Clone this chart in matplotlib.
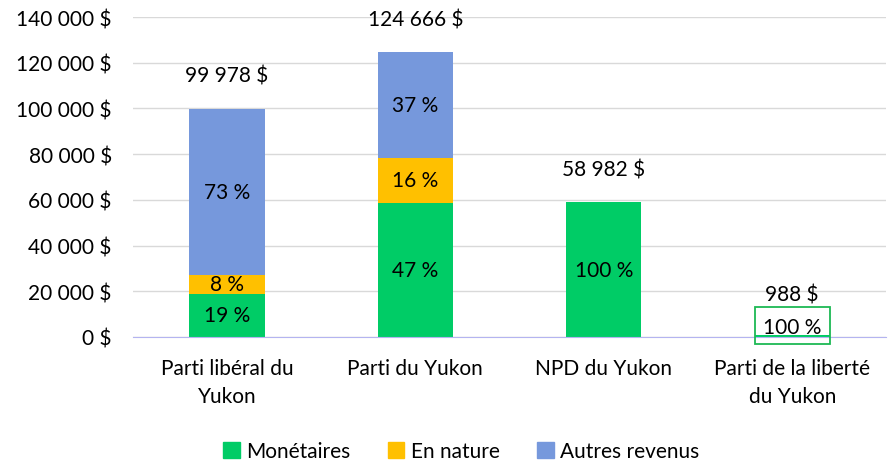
import matplotlib
matplotlib.use("Agg")
import matplotlib.pyplot as plt
import numpy as np
from matplotlib.patches import Patch, Rectangle

plt.rcParams['font.family'] = ['Lato', 'DejaVu Sans']

partis = ["Parti libéral du\nYukon", "Parti du Yukon", "NPD du Yukon", "Parti de la liberté\ndu Yukon"]
totaux = [99978, 124666, 58982, 988]
monetaires = [18996, 58593, 58982, 988]
en_nature = [7998, 19947, 0, 0]
autres = [72984, 46126, 0, 0]
pct_monetaires = ["19 %", "47 %", "100 %", "100 %"]
pct_nature = ["8 %", "16 %", "", ""]
pct_autres = ["73 %", "37 %", "", ""]

vert = "#00CC66"
orange = "#FFC000"
bleu = "#7698DC"

def fmt(v):
    return f"{v:,}".replace(",", " ") + " $"

fig = plt.figure(figsize=(8.9, 4.64), dpi=100)
ax = fig.add_axes([0.149, 0.2716, 0.847, 0.6894])

x = np.arange(len(partis))
w = 0.4
ax.bar(x, monetaires, w, color=vert, zorder=3)
ax.bar(x, en_nature, w, bottom=monetaires, color=orange, zorder=3)
bas3 = [m + n for m, n in zip(monetaires, en_nature)]
ax.bar(x, autres, w, bottom=bas3, color=bleu, zorder=3)

fs = 15
for i in range(len(partis)):
    haut = totaux[i] + 14500
    if monetaires[i] > 5000:
        ax.text(x[i], monetaires[i] / 2, pct_monetaires[i], ha="center", va="center", fontsize=fs, zorder=4)
    else:
        # petite barre : étiquette encadrée au-dessus de l'axe
        ax.text(x[i], 4400, pct_monetaires[i], ha="center", va="center", fontsize=fs, zorder=6)
        ax.add_patch(Rectangle((x[i] - w / 2, -3000), w, 16100, fill=False, ec="#1DB954",
                               lw=1.3, zorder=6, clip_on=False))
        haut = totaux[i] + 17500
    if pct_nature[i]:
        ax.text(x[i], monetaires[i] + en_nature[i] / 2, pct_nature[i], ha="center", va="center", fontsize=fs, zorder=4)
    if pct_autres[i]:
        ax.text(x[i], bas3[i] + autres[i] / 2, pct_autres[i], ha="center", va="center", fontsize=fs, zorder=4)
    ax.text(x[i], haut, fmt(totaux[i]), ha="center", va="center", fontsize=fs, zorder=4)

ax.set_ylim(0, 140000)
ax.set_xlim(-0.5, len(partis) - 0.5)
ax.set_yticks(np.arange(0, 140001, 20000))
ax.set_yticklabels([fmt(v) for v in range(0, 140001, 20000)], fontsize=fs)
ax.set_xticks(x)
ax.set_xticklabels(partis, fontsize=fs, linespacing=1.5)
ax.tick_params(axis="y", length=0, pad=15)
ax.tick_params(axis="x", length=0, pad=15)
ax.grid(axis="y", color="#D9D9D9", lw=1, zorder=0)
for s in ["top", "right", "left"]:
    ax.spines[s].set_visible(False)
ax.spines["bottom"].set_color("#B4B4F0")
ax.spines["bottom"].set_zorder(5)

handles = [Patch(color=vert, label="Monétaires"), Patch(color=orange, label="En nature"),
           Patch(color=bleu, label="Autres revenus")]
fig.legend(handles=handles, loc="center", bbox_to_anchor=(0.518, 0.026), ncol=3, frameon=False,
           fontsize=fs, handlelength=0.8, handleheight=0.8, handletextpad=0.3, columnspacing=1.8)

fig.savefig("out.png", dpi=100)
